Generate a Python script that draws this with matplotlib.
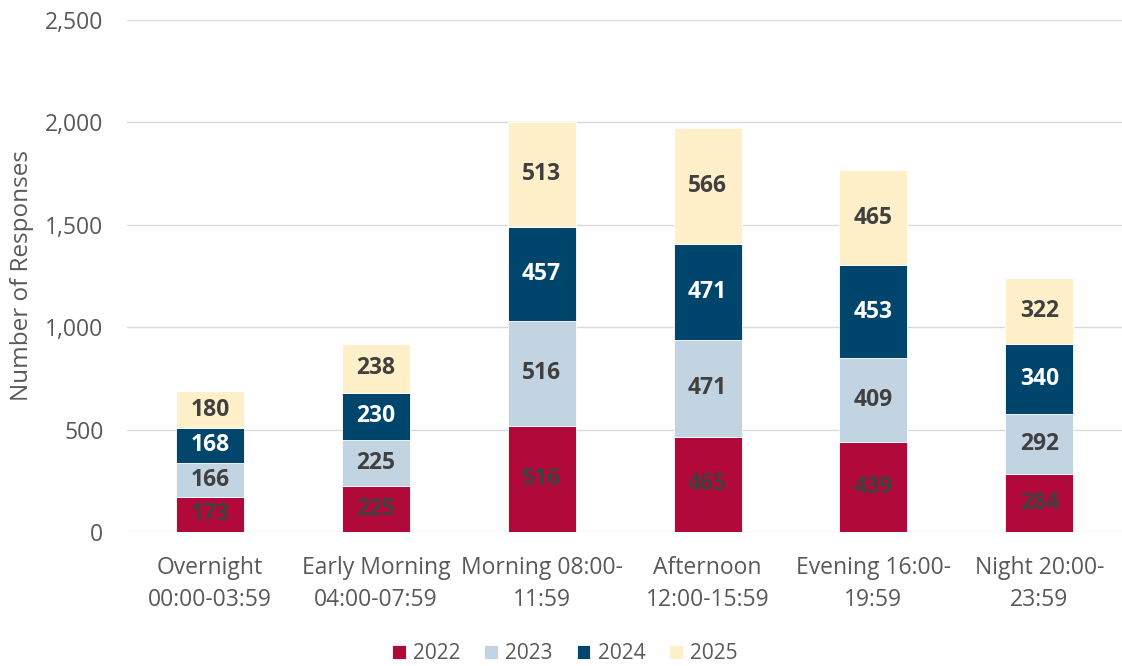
import matplotlib.pyplot as plt
import numpy as np

plt.rcParams['font.family'] = ['Open Sans', 'DejaVu Sans']

periods = ["Overnight\n00:00-03:59", "Early Morning\n04:00-07:59", "Morning 08:00-\n11:59",
           "Afternoon\n12:00-15:59", "Evening 16:00-\n19:59", "Night 20:00-\n23:59"]
years = ["2022", "2023", "2024", "2025"]
v2022 = [173, 225, 516, 465, 439, 284]
v2023 = [166, 225, 516, 471, 409, 292]
v2024 = [168, 230, 457, 471, 453, 340]
v2025 = [180, 238, 513, 566, 465, 322]

colors = ["#B10A3A", "#C2D4E2", "#00456B", "#FFF0C9"]
label_colors = ["#404040", "#404040", "white", "#404040"]

fig = plt.figure(figsize=(11.22, 6.66), dpi=100)
ax = fig.add_axes([0.1132, 0.2012, 0.887, 0.769])

x = np.arange(len(periods))
bottom = np.zeros(len(periods))
for year, vals, c, lc in zip(years, [v2022, v2023, v2024, v2025], colors, label_colors):
    vals = np.array(vals)
    bars = ax.bar(x, vals, 0.41, bottom=bottom, color=c, label=year,
                  edgecolor="white", linewidth=0.6, zorder=3)
    ax.bar_label(bars, labels=[str(v) for v in vals], label_type="center",
                 color=lc, fontsize=16.5, fontweight="bold")
    bottom += vals

ax.set_xlim(-0.5, len(periods) - 0.5)
ax.set_ylim(0, 2500)
ax.set_yticks(range(0, 2501, 500))
ax.set_yticklabels([f"{v:,}" for v in range(0, 2501, 500)])
ax.set_xticks(x)
ax.set_xticklabels(periods, linespacing=1.45)
ax.grid(axis="y", color="#D9D9D9", linewidth=1, zorder=0)
for s in ax.spines.values():
    s.set_visible(False)
ax.tick_params(axis="both", length=0, labelsize=16.5, colors="#595959")
ax.tick_params(axis="y", pad=17)
ax.tick_params(axis="x", pad=17)
ax.set_ylabel("Number of Responses", fontsize=17.5, color="#595959", labelpad=8)

ax.legend(loc="upper center", bbox_to_anchor=(0.44, -0.18), ncol=4, frameon=False,
          fontsize=15, labelcolor="#595959", handlelength=0.65, handleheight=0.65,
          handletextpad=0.35, columnspacing=1.15)

fig.savefig("out.png", dpi=100)
